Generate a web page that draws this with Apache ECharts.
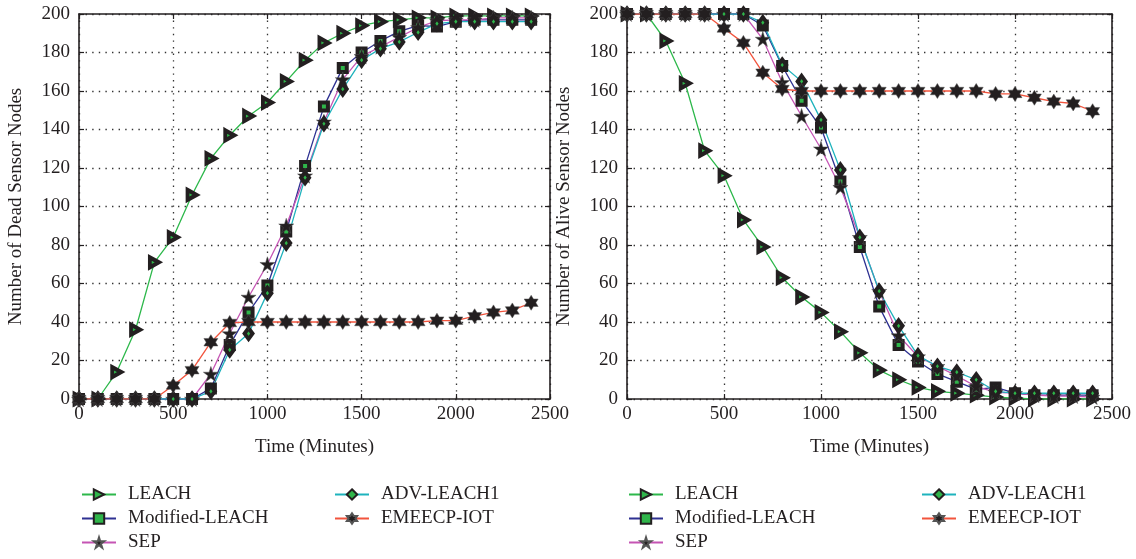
<!DOCTYPE html>
<html><head><meta charset="utf-8">
<script src="https://cdn.jsdelivr.net/npm/echarts@6/dist/echarts.min.js"></script>
<style>html,body{margin:0;padding:0;background:#fff}#c{width:1136px;height:559px}</style>
</head><body><div id="c"></div>
<script>
// ---- data ----
const time = [0,100,200,300,400,500,600,700,800,900,1000,1100,1200,1300,1400,1500,1600,1700,1800,1900,2000,2100,2200,2300,2400];
const seriesNames = ['LEACH','Modified-LEACH','SEP','ADV-LEACH1','EMEECP-IOT'];
const xTicks = [0,500,1000,1500,2000,2500];
const yTicks = [0,20,40,60,80,100,120,140,160,180,200];

// Left panel: number of dead sensor nodes
const deadLEACH = [0,0,14,36,71,84,106,125,137,147,154,165,176,185,190,194,196,197,198,198,199,199,199,199,199];
const deadModified = [0,0,0,0,0,0,0,5.5,28,45,59,87,121,152,172,180,186,191,194,193.5,196,197,197,197,197];
const deadSEP = [0,0,0,0,0,0,0,13,34,53,70,90,116,144,166,178,183,188,193,196.5,197,197,198,198,198];
const deadADV = [0,0,0,0,0,0,0,4,25.5,34,55,81,115,143,161,176,182,185.5,190.5,195,196,196,196,196,196];
const deadEMEECP = [0,0,0,0,0,7,15,29.5,39.5,40,40,40,40,40,40,40,40,40,40,40.7,40.7,43,45,46,50];

// Right panel: number of alive sensor nodes
const aliveLEACH = [200,200,186,164,129,116,93,79,63,53,45,35,24,15,10,6,4,3,2,1,0.5,0,0,0,0];
const aliveModified = [200,200,200,200,200,200,200,194,173,155,141,113,79,48,28,19.5,13,9,5,6,3,2,2,2,2];
const aliveSEP = [200,200,200,200,200,200,200,187,164.5,147,130,110,84,56,33,22,17,12,6.5,3.5,3,2,1.5,1.5,1];
const aliveADV = [200,200,200,200,200,200,200,195.5,173.5,165,145,119,84,56,38,22.5,17,14,10,4,3,3,3,3,3];
const aliveEMEECP = [200,200,200,200,200,192.5,185,169.5,161,160,160,160,160,160,160,160,160,160,160,158.5,158.5,156.5,154.5,153.5,149.5];

// ---- styles ----
const FONT = 'Liberation Serif';
const FS = 19;
const TXT = '#231f20';
const GREEN_FILL = '#2fb54a';
const STAR5 = 'path://M50,0 L61.2,34.5 L97.6,34.5 L68.2,55.9 L79.4,90.5 L50,69.1 L20.6,90.5 L31.8,55.9 L2.4,34.5 L38.8,34.5 Z';
const STAR6 = 'path://M50,0 L64.4,25 L93.3,25 L78.9,50 L93.3,75 L64.4,75 L50,100 L35.6,75 L6.7,75 L21.1,50 L6.7,25 L35.6,25 Z';
const TRI_R = 'path://M0,0 L100,55 L0,110 Z';
const style = {
  'LEACH':          {line:'#2db84b', symbol:TRI_R, size:[9,10], fill:GREEN_FILL, border:'#231f20', bw:4},
  'Modified-LEACH': {line:'#2e3192', symbol:'rect', size:8, fill:GREEN_FILL, border:'#231f20', bw:4},
  'SEP':            {line:'#c554b4', symbol:STAR5, size:[15,15], fill:'#231f20', border:'#555', bw:0.5},
  'ADV-LEACH1':     {line:'#1eb3bd', symbol:'diamond', size:[8,11], fill:GREEN_FILL, border:'#231f20', bw:4},
  'EMEECP-IOT':     {line:'#f2543d', symbol:STAR6, size:[14,15], fill:'#231f20', border:'#555', bw:0.5}
};

function mkSeries(name, data, xi, yi) {
  const s = style[name];
  return {
    name, type:'line', xAxisIndex:xi, yAxisIndex:yi,
    data: time.map((t,i)=>[t,data[i]]),
    symbol:s.symbol, symbolSize:s.size, showAllSymbol:true,
    lineStyle:{color:s.line, width:1.3},
    itemStyle:{color:s.fill, borderColor:s.border, borderWidth:s.bw},
    emphasis:{disabled:true}, animation:false, z:3
  };
}

function xAxes(gi) {
  const base = {gridIndex:gi, type:'value', min:xTicks[0], max:xTicks[xTicks.length-1], interval:500,
    axisLine:{show:true, onZero:false, lineStyle:{color:TXT, width:1.6}},
    axisTick:{show:true, inside:true, length:5, lineStyle:{color:TXT, width:1.2}}};
  return [
    Object.assign({}, base, {position:'bottom', name:'Time (Minutes)', nameLocation:'middle', nameGap:39,
      nameTextStyle:{fontFamily:FONT, fontSize:FS, color:TXT},
      axisLabel:{fontFamily:FONT, fontSize:FS, color:TXT, margin:6, formatter:v=>String(v)},
      splitLine:{show:true, lineStyle:{color:'#333', width:1.3, type:[1.4,5.2]}}}),
    Object.assign({}, base, {position:'top', axisLabel:{show:false}, splitLine:{show:false}})
  ];
}
function yAxes(gi, name) {
  const base = {gridIndex:gi, type:'value', min:yTicks[0], max:yTicks[yTicks.length-1], interval:20,
    axisLine:{show:true, onZero:false, lineStyle:{color:TXT, width:1.6}},
    axisTick:{show:true, inside:true, length:5, lineStyle:{color:TXT, width:1.2}}};
  return [
    Object.assign({}, base, {position:'left', name, nameLocation:'middle', nameGap:53,
      nameTextStyle:{fontFamily:FONT, fontSize:FS, color:TXT},
      axisLabel:{fontFamily:FONT, fontSize:FS, color:TXT, margin:9, formatter:v=>String(v)},
      splitLine:{show:true, lineStyle:{color:'#333', width:1.3, type:[1.4,5.2]}}}),
    Object.assign({}, base, {position:'right', axisLabel:{show:false}, splitLine:{show:false}})
  ];
}

function legend(left, names) {
  return {left, top:480, orient:'vertical', itemWidth:34, itemHeight:13, itemGap:5,
    data:names, textStyle:{fontFamily:FONT, fontSize:FS, color:TXT, padding:[0,0,0,7]},
    selectedMode:false};
}

const chart = echarts.init(document.getElementById('c'), null, {renderer:'canvas'});
chart.setOption({
  backgroundColor:'#fff',
  animation:false,
  grid:[
    {left:79, top:14, width:471, height:385},
    {left:627, top:14, width:485, height:385}
  ],
  xAxis:[...xAxes(0), ...xAxes(1)],
  yAxis:[...yAxes(0,'Number of Dead Sensor Nodes'), ...yAxes(1,'Number of Alive Sensor Nodes')],
  legend:[
    legend(76, ['LEACH','Modified-LEACH','SEP']),
    legend(329, ['ADV-LEACH1','EMEECP-IOT']),
    legend(623, ['LEACH','Modified-LEACH','SEP']),
    legend(916, ['ADV-LEACH1','EMEECP-IOT'])
  ],
  series:[
    mkSeries('LEACH', deadLEACH, 0, 0),
    mkSeries('Modified-LEACH', deadModified, 0, 0),
    mkSeries('SEP', deadSEP, 0, 0),
    mkSeries('ADV-LEACH1', deadADV, 0, 0),
    mkSeries('EMEECP-IOT', deadEMEECP, 0, 0),
    mkSeries('LEACH', aliveLEACH, 2, 2),
    mkSeries('Modified-LEACH', aliveModified, 2, 2),
    mkSeries('SEP', aliveSEP, 2, 2),
    mkSeries('ADV-LEACH1', aliveADV, 2, 2),
    mkSeries('EMEECP-IOT', aliveEMEECP, 2, 2)
  ]
});
</script>
</body></html>
